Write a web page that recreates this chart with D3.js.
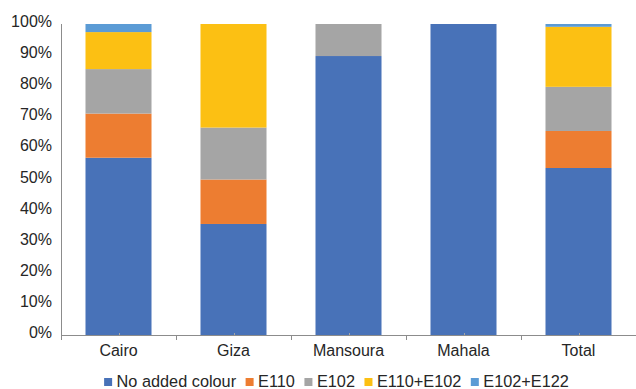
<!DOCTYPE html>
<html>
<head>
<meta charset="utf-8">
<script src="https://cdn.jsdelivr.net/npm/d3@7"></script>
<style>
  html, body { margin: 0; padding: 0; background: #fff; }
  svg { display: block; font-family: "Liberation Sans", Arial, sans-serif; }
</style>
</head>
<body>
<svg id="chart" width="636" height="389"></svg>
<script>
// Share of samples by added colour, per city (%)
const categories = ["Cairo", "Giza", "Mansoura", "Mahala", "Total"];
const seriesNames = ["No added colour", "E110", "E102", "E110+E102", "E102+E122"];
const noColour  = [57.0, 35.7, 89.7, 100, 53.7];
const e110      = [14.2, 14.3, 0, 0, 11.9];
const e102      = [14.3, 16.7, 10.3, 0, 14.2];
const e110e102  = [11.9, 33.3, 0, 0, 19.3];
const e102e122  = [2.6, 0, 0, 0, 0.9];
const yTicks = [0, 10, 20, 30, 40, 50, 60, 70, 80, 90, 100];
const colours = ["#4872B8", "#ED7D31", "#A5A5A5", "#FCC013", "#5B9BD5"];

const seriesValues = [noColour, e110, e102, e110e102, e102e122];
const rows = categories.map((c, i) => {
  const r = { category: c };
  seriesNames.forEach((s, k) => { r[s] = seriesValues[k][i]; });
  return r;
});

const svg = d3.select("#chart");
const plotLeft = 61, plotRight = 636, plotTop = 24, plotBottom = 335;

const x = d3.scaleBand().domain(categories).range([plotLeft, plotRight])
  .paddingInner(0.426).paddingOuter(0.213);
const y = d3.scaleLinear().domain([0, 100]).range([plotBottom, plotTop]);
const colour = d3.scaleOrdinal().domain(seriesNames).range(colours);

const stacked = d3.stack().keys(seriesNames)(rows);

// stacked bars
svg.append("g").selectAll("g").data(stacked).join("g")
  .attr("fill", d => colour(d.key))
  .selectAll("rect").data(d => d.filter(p => p[1] - p[0] > 0)).join("rect")
  .attr("x", d => x(d.data.category))
  .attr("width", x.bandwidth())
  .attr("y", d => y(d[1]))
  .attr("height", d => y(d[0]) - y(d[1]));

// y axis: line and percentage labels
svg.append("line")
  .attr("x1", plotLeft + 0.5).attr("x2", plotLeft + 0.5)
  .attr("y1", y(100)).attr("y2", y(0))
  .attr("stroke", "#8c8c8c").attr("stroke-width", 1);

svg.append("g").selectAll("text").data(yTicks).join("text")
  .attr("x", 52)
  .attr("y", d => y(d) + 3)
  .attr("text-anchor", "end")
  .attr("font-size", 16)
  .attr("fill", "#262626")
  .text(d => d + "%");

// x axis: baseline, boundary ticks, centre marks and labels
const xAxis = svg.append("g");
xAxis.append("line")
  .attr("x1", plotLeft).attr("x2", plotRight)
  .attr("y1", plotBottom + 0.5).attr("y2", plotBottom + 0.5)
  .attr("stroke", "#8c8c8c").attr("stroke-width", 1);

const step = x.step();
const boundaries = categories.map(c => x(c) - step * x.paddingInner() / 2);
xAxis.selectAll("line.tick").data(boundaries).join("line")
  .attr("class", "tick")
  .attr("x1", d => Math.round(d) + 0.5).attr("x2", d => Math.round(d) + 0.5)
  .attr("y1", plotBottom).attr("y2", plotBottom + 5)
  .attr("stroke", "#8c8c8c");

xAxis.selectAll("line.mid").data(categories).join("line")
  .attr("class", "mid")
  .attr("x1", d => Math.round(x(d) + x.bandwidth() / 2) + 0.5)
  .attr("x2", d => Math.round(x(d) + x.bandwidth() / 2) + 0.5)
  .attr("y1", plotBottom - 2).attr("y2", plotBottom)
  .attr("stroke", "#a6a6a6");

xAxis.selectAll("text").data(categories).join("text")
  .attr("x", d => x(d) + x.bandwidth() / 2)
  .attr("y", 356)
  .attr("text-anchor", "middle")
  .attr("font-size", 16)
  .attr("fill", "#262626")
  .text(d => d);

// legend, laid out left to right and centred
const legend = svg.append("g");
const items = legend.selectAll("g").data(seriesNames).join("g");
items.append("rect")
  .attr("width", 8).attr("height", 8)
  .attr("y", 378)
  .attr("fill", d => colour(d));
items.append("text")
  .attr("x", 12.5).attr("y", 386.5)
  .attr("font-size", 16.3)
  .attr("fill", "#262626")
  .text(d => d);

let cursor = 0;
const widths = [];
items.each(function () {
  const w = 12.5 + d3.select(this).select("text").node().getComputedTextLength();
  widths.push(w);
});
const gap = 9.5;
const totalWidth = d3.sum(widths) + gap * (widths.length - 1);
const legendStart = 336.5 - totalWidth / 2;
items.attr("transform", (d, i) => {
  const t = `translate(${legendStart + cursor},0)`;
  cursor += widths[i] + gap;
  return t;
});
</script>
</body>
</html>
